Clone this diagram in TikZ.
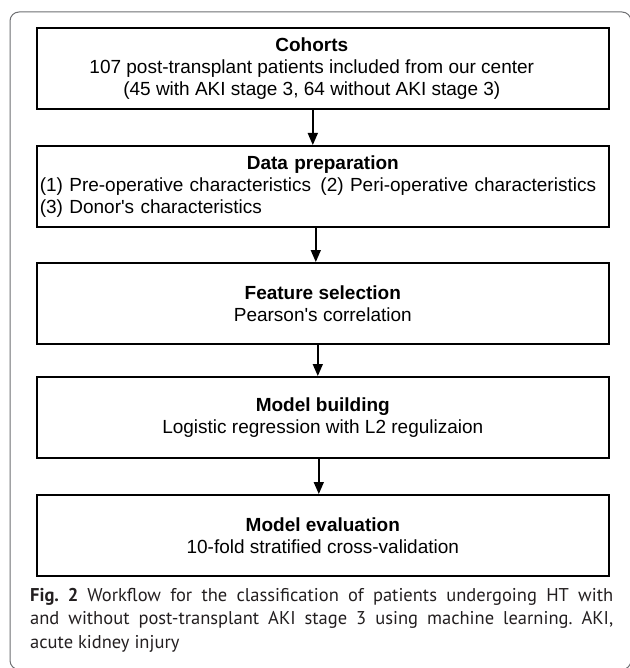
\documentclass[tikz,border=0pt]{standalone}
\usepackage{fontspec}
\setmainfont{Liberation Sans}
\newfontfamily\capfont{PT Sans}
\usetikzlibrary{arrows.meta}

\definecolor{framegray}{HTML}{6D6E71}
\definecolor{capink}{HTML}{231F20}

\tikzset{
  stepbox/.style={draw,line width=1.6pt,minimum width=572pt,minimum height=81pt,
    inner sep=0pt,anchor=north west},
  steptext/.style={align=center,inner sep=0pt,font=\fontsize{19}{22}\selectfont},
  flow/.style={line width=1.5pt,-{Triangle[width=10pt,length=12pt]}},
}

\begin{document}
\begin{tikzpicture}[x=1pt,y=-1pt]

  \useasboundingbox (0,0) rectangle (629,668);

  % Outer frame (runs off the right and bottom edges)
  \draw[framegray,line width=1pt,rounded corners=9pt] (10,12) rectangle (631,669.5);

  % Step boxes, top edges
  \foreach \n/\top in {1/27,2/145,3/262,4/376,5/494}{%
      \node[stepbox] (box\n) at (36,\top) {};}

  \node[steptext] (cohorts) at ([xshift=-11pt]box1.center)
    {\textbf{Cohorts}\\107 post-transplant patients included from our center\\(45 with AKI stage 3, 64 without AKI stage 3)};
  \node[steptext,text width=566pt,align=left] (prep) at (box2.center)
    {\makebox[\linewidth]{\bfseries Data preparation}\\(1) Pre-operative characteristics\hspace{3pt} (2) Peri-operative characteristics\\(3) Donor\textquotesingle s characteristics};
  \node[steptext] (select) at (box3.center) {\textbf{Feature selection}\\Pearson\textquotesingle s correlation};
  \node[steptext] (build) at (box4.center) {\textbf{Model building}\\Logistic regression with L2 regulizaion};
  \node[steptext] (evaluate) at (box5.center) {\textbf{Model evaluation}\\10-fold stratified cross-validation};

  % Arrows between steps
  \draw[flow] ([xshift=-10pt]box1.south) -- ([xshift=-10pt]box2.north);
  \draw[flow] ([xshift=-7pt]box2.south) -- ([xshift=-7pt]box3.north);
  \draw[flow] ([xshift=-5pt]box3.south) -- ([xshift=-5pt]box4.north);
  \draw[flow] ([xshift=-4pt]box4.south) -- ([xshift=-4pt]box5.north);

  % Caption
  \node[anchor=base west,inner sep=0pt,text width=583pt,align=justify,text=capink,
        font=\capfont\fontsize{18.5}{23.5}\selectfont\frenchspacing] (caption) at (30,601)
    {\textbf{Fig.~2}\hspace{9pt}Workflow for the classification of patients undergoing HT with\linebreak
     and without post-transplant AKI stage 3 using machine learning. AKI,\linebreak
     acute kidney injury};

\end{tikzpicture}
\end{document}
